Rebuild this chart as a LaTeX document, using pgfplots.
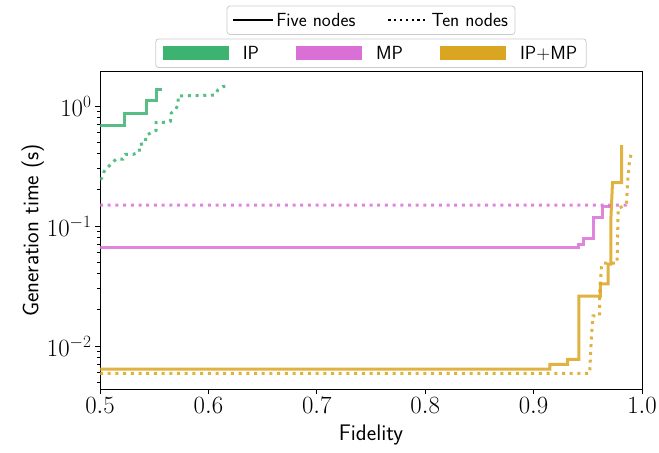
\documentclass[border=0pt]{standalone}
\usepackage{fontspec}
\usepackage{pgfplots}
\pgfplotsset{compat=1.18}
\definecolor{ipc}{RGB}{60,179,113}
\definecolor{mpc}{RGB}{218,112,214}
\definecolor{ipmpc}{RGB}{218,165,32}
\tikzset{
  solidl/.style={line width=3bp, opacity=0.85},
  dotl/.style={line width=3bp, opacity=0.85, dash pattern=on 3bp off 4.7bp},
}
\begin{document}
\begin{tikzpicture}
\useasboundingbox (0,0) rectangle (659bp,453bp);
\begin{axis}[
  at={(100bp,64bp)}, anchor=south west,
  width=542bp, height=317bp, scale only axis,
  ymode=log, xmin=0.5, xmax=1.0, ymin=0.00438, ymax=1.92,
  xtick={0.5,0.6,0.7,0.8,0.9,1.0},
  xticklabel style={/pgf/number format/.cd, fixed, fixed zerofill, precision=1},
  tick pos=left, tick align=outside,
  major tick length=5bp, minor tick length=3bp,
  every tick/.style={black, line width=0.8bp},
  axis line style={line width=1bp},
  ticklabel style={font=\fontsize{24bp}{28bp}\selectfont},
  xlabel={Fidelity}, ylabel={Generation time (s)},
  ylabel style={yshift=-4bp},
  xlabel style={yshift=-5bp},
  label style={font=\sffamily\fontsize{22.5bp}{26bp}\selectfont},
  legend columns=3,
  legend style={at={(0.5,1)}, anchor=south, yshift=4bp,
    font=\sffamily\fontsize{19bp}{22bp}\selectfont,
    draw=black!20, line width=0.8bp, rounded corners=3bp,
    inner xsep=7bp, inner ysep=5bp,
    /tikz/every odd column/.append style={column sep=12bp},
    /tikz/every even column/.append style={column sep=35bp}},
  legend cell align=left,
  legend image code/.code={\fill[#1, draw=none, sharp corners] (0bp,-7bp) rectangle (66bp,7bp);},
]
% IP, five nodes
\addplot[solidl, ipc, forget plot] coordinates {
(0.5,0.686) (0.523,0.686) (0.523,0.863) (0.534,0.863) (0.534,0.873)
(0.543,0.873) (0.543,1.107) (0.552,1.107) (0.552,1.36) (0.557,1.36)};
% IP, ten nodes
\addplot[dotl, ipc, forget plot] coordinates {
(0.5,0.245) (0.5016,0.250) (0.5037,0.284) (0.5067,0.308) (0.5108,0.329)
(0.5145,0.360) (0.5212,0.360) (0.5234,0.396) (0.5307,0.396) (0.5363,0.411)
(0.5363,0.476) (0.5418,0.489) (0.5425,0.570) (0.5517,0.627) (0.5517,0.731)
(0.5588,0.731) (0.5649,0.746) (0.5656,0.869) (0.5693,0.927) (0.5720,1.02)
(0.5720,1.21) (0.6062,1.235) (0.6087,1.36) (0.6133,1.45) (0.6194,1.47)};
% MP, five nodes
\addplot[solidl, mpc, forget plot] coordinates {
(0.5,0.0665) (0.9417,0.0665) (0.9417,0.0704) (0.9463,0.0704) (0.9463,0.0784)
(0.9555,0.0784) (0.9555,0.1166) (0.9635,0.1166) (0.9635,0.146) (0.9718,0.146)};
% MP, ten nodes
\addplot[dotl, mpc, forget plot] coordinates {
(0.5,0.149) (0.985,0.149) (0.987,0.155)};
% IP+MP, five nodes
\addplot[solidl, ipmpc, forget plot] coordinates {
(0.5,0.0064) (0.9149,0.0064) (0.9149,0.00704) (0.9315,0.00704) (0.9315,0.00775)
(0.9417,0.00775) (0.9417,0.026) (0.9617,0.026) (0.9617,0.0329) (0.9688,0.0329)
(0.9688,0.048) (0.9712,0.048) (0.9712,0.11) (0.9728,0.23) (0.9811,0.23) (0.9811,0.473)};
% IP+MP, ten nodes
\addplot[dotl, ipmpc, forget plot] coordinates {
(0.5,0.00592) (0.9518,0.00592) (0.9525,0.0085) (0.9535,0.0125) (0.9548,0.0178)
(0.961,0.0178) (0.961,0.028) (0.9625,0.045) (0.964,0.049) (0.977,0.049)
(0.978,0.140) (0.9832,0.147) (0.9857,0.156) (0.987,0.25) (0.9885,0.35) (0.9903,0.41)};
\addlegendimage{fill=ipc}
\addlegendentry{IP}
\addlegendimage{fill=mpc}
\addlegendentry{MP}
\addlegendimage{fill=ipmpc}
\addlegendentry{IP+MP}
\end{axis}
\begin{axis}[
  at={(100bp,64bp)}, anchor=south west,
  width=542bp, height=317bp, scale only axis,
  hide axis, xmin=0, xmax=1, ymin=0, ymax=1,
  legend columns=2,
  legend style={at={(0.5,1)}, anchor=south, yshift=37bp,
    font=\sffamily\fontsize{19bp}{22bp}\selectfont,
    draw=black!20, line width=0.8bp, rounded corners=3bp,
    inner xsep=5bp, inner ysep=5bp,
    /tikz/every odd column/.append style={column sep=0bp},
    /tikz/every even column/.append style={column sep=30bp}},
  legend cell align=left,
  legend image code/.code={\draw[#1, sharp corners] (0bp,0bp) -- (40bp,0bp);},
]
\addlegendimage{black, line width=2.2bp}
\addlegendentry{Five nodes}
\addlegendimage{black, line width=2.2bp, dash pattern=on 2.2bp off 3.6bp}
\addlegendentry{Ten nodes}
\end{axis}
\end{tikzpicture}
\end{document}
